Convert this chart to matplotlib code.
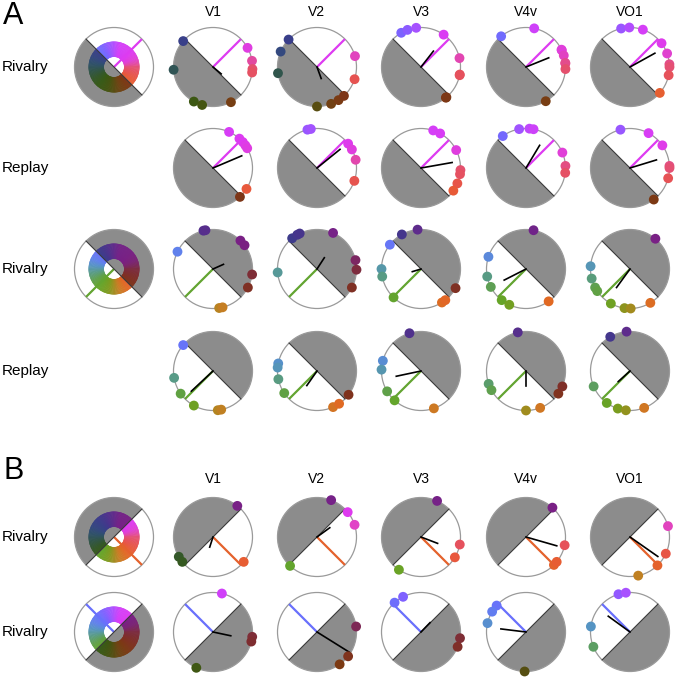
import numpy as np
import matplotlib.pyplot as plt
from matplotlib.patches import Circle, Wedge

plt.rcParams['font.family'] = ['Liberation Sans', 'DejaVu Sans']

areas = ['V1', 'V2', 'V3', 'V4v', 'VO1']
row_labels = ['Rivalry', 'Replay', 'Rivalry', 'Replay', 'Rivalry', 'Rivalry']
stim_angle = [45, 45, 225, 225, 315, 135]
has_key = [True, False, True, False, True, True]

# decoded colour angles (deg) of the single dots, per area
dots_a1 = [[139, 184, 241, 254, 297, 29, 9, 357, 352],
           [136, 157, 189, 270, 291, 303, 313, 16, 342],
           [120, 110, 97, 55, 13, 348, 349, 309, 310],
           [129, 78, 26, 25, 17, 6, 5, 357, 300],
           [103, 91, 71, 37, 20, 4, 0, 348, 319]]
dots_a2 = [[66, 48, 41, 35, 30, 328, 313],
           [104, 99, 38, 28, 12, 341],
           [72, 61, 27, 357, 351, 337, 325],
           [126, 100, 85, 79, 23, 3, 353],
           [104, 62, 35, 3, 0, 345, 307]]
dots_a3 = [[104, 101, 46, 37, 352, 332, 279, 284, 154],
           [129, 120, 116, 66, 13, 359, 332, 185],
           [119, 95, 142, 180, 191, 226, 331, 302, 308],
           [79, 162, 191, 207, 232, 245, 305],
           [50, 176, 194, 208, 214, 241, 262, 271, 301]]
dots_a4 = [[139, 190, 215, 241, 277, 282],
           [169, 175, 192, 214, 294, 304, 323],
           [107, 165, 178, 211, 228, 289],
           [102, 199, 209, 270, 291, 325, 337],
           [120, 95, 203, 234, 252, 264, 291]]
dots_b1 = [[52, 210, 219, 321],
           [69, 39, 18, 227],
           [66, 349, 329, 236],
           [48, 348, 315, 321],
           [16, 335, 314, 282]]
dots_b2 = [[77, 353, 346, 245],
           [8, 322, 305],
           [132, 117, 351, 338],
           [138, 149, 167, 268],
           [107, 96, 172, 202]]

# mean decoded vector: angle (deg) and length (fraction of radius)
vec_ang_a1 = [320, 290, 52, 22, 29]
vec_len_a1 = [0.27, 0.31, 0.51, 0.62, 0.72]
vec_ang_a2 = [23, 39, 10, 59, 17]
vec_len_a2 = [0.79, 0.75, 0.80, 0.67, 0.70]
vec_ang_a3 = [24, 57, 197, 207, 234]
vec_len_a3 = [0.29, 0.34, 0.23, 0.62, 0.58]
vec_ang_a4 = [223, 235, 192, 270, 222]
vec_len_a4 = [0.75, 0.45, 0.64, 0.38, 0.40]
vec_ang_b1 = [252, 36, 339, 344, 325]
vec_len_b1 = [0.27, 0.40, 0.45, 0.81, 0.86]
vec_ang_b2 = [348, 328, 46, 173, 144]
vec_len_b2 = [0.46, 0.96, 0.33, 0.64, 0.68]

all_dots = [dots_a1, dots_a2, dots_a3, dots_a4, dots_b1, dots_b2]
all_vang = [vec_ang_a1, vec_ang_a2, vec_ang_a3, vec_ang_a4, vec_ang_b1, vec_ang_b2]
all_vlen = [vec_len_a1, vec_len_a2, vec_len_a3, vec_len_a4, vec_len_b1, vec_len_b2]

# colour wheel anchors
wheel_deg = [0, 10, 22, 40, 75, 95, 115, 135, 155, 172, 190, 210, 230, 255, 270, 285, 305, 325, 345, 360]
wheel_rgb = np.array([(228, 80, 115), (226, 72, 165), (224, 64, 215), (222, 58, 240), (212, 62, 248),
                      (170, 80, 255), (130, 95, 255), (105, 112, 252), (95, 130, 235), (85, 148, 195),
                      (88, 155, 135), (95, 160, 75), (100, 165, 40), (125, 155, 30), (160, 140, 30),
                      (200, 125, 35), (225, 105, 35), (232, 90, 55), (230, 82, 85), (228, 80, 115)]) / 255.0


def wheel(a):
    a = a % 360
    return tuple(np.interp(a, wheel_deg, wheel_rgb[:, k]) for k in range(3))


def shaded(a, s0):
    return (a - s0) % 360 < 180


W = H = 677
R = 39.5
col_x = [213, 317, 421, 526, 630]
key_x = 114
row_y = [67, 168, 269, 371, 537, 632]
dark = 0.55

fig = plt.figure(figsize=(6.77, 6.77), dpi=100)


def make_ax(cx, cy):
    ax = fig.add_axes([(cx - 50) / W, 1 - (cy + 50) / H, 100 / W, 100 / H])
    ax.set_xlim(-50 / R, 50 / R)
    ax.set_ylim(-50 / R, 50 / R)
    ax.axis('off')
    return ax


def base(ax, stim, key):
    s0 = stim + 90
    ax.add_patch(Circle((0, 0), 1, fc='white', ec='none'))
    t = np.radians(stim)
    if key:
        for d in range(0, 360, 2):
            c = wheel(d + 1)
            ax.add_patch(Wedge((0, 0), 0.64, d, d + 2.2, width=0.38, fc=c, ec=c, lw=0.3))
        ax.plot([0, np.cos(t)], [0, np.sin(t)], color=wheel(stim), lw=1.6, solid_capstyle='butt')
        ax.add_patch(Wedge((0, 0), 1, s0, s0 + 180, fc='black', alpha=0.45, ec='none'))
    else:
        ax.add_patch(Wedge((0, 0), 1, s0, s0 + 180, fc='#8c8c8c', ec='none'))
        ax.plot([0, np.cos(t)], [0, np.sin(t)], color=wheel(stim), lw=1.6, solid_capstyle='butt')
    b = np.radians(s0)
    ax.plot([np.cos(b), -np.cos(b)], [np.sin(b), -np.sin(b)], color='#3a3a3a', lw=0.8)
    ax.add_patch(Circle((0, 0), 1, fill=False, ec='#9a9a9a', lw=0.9))


for r in range(6):
    stim = stim_angle[r]
    s0 = stim + 90
    if has_key[r]:
        ax = make_ax(key_x, row_y[r])
        base(ax, stim, True)
    for c in range(5):
        ax = make_ax(col_x[c], row_y[r])
        base(ax, stim, False)
        va = np.radians(all_vang[r][c])
        vl = all_vlen[r][c]
        ax.plot([0, vl * np.cos(va)], [0, vl * np.sin(va)], color='black', lw=1.2)
        ang = np.array(all_dots[r][c])
        cols = []
        for a in ang:
            col = np.array(wheel(a))
            if shaded(a, s0):
                col = col * dark
            cols.append(col)
        ax.scatter(np.cos(np.radians(ang)), np.sin(np.radians(ang)), s=50, c=cols,
                   edgecolors='none', zorder=5, clip_on=False)

# texts
for r in range(6):
    fig.text(2 / W, 1 - row_y[r] / H, row_labels[r], fontsize=11, ha='left', va='center')
for c in range(5):
    fig.text(col_x[c] / W, 1 - 12 / H, areas[c], fontsize=10, ha='center', va='center')
    fig.text(col_x[c] / W, 1 - 479 / H, areas[c], fontsize=10, ha='center', va='center')
fig.text(3 / W, 1 - 16 / H, 'A', fontsize=22, ha='left', va='center')
fig.text(3 / W, 1 - 471 / H, 'B', fontsize=22, ha='left', va='center')

fig.savefig('out.png', dpi=100)
